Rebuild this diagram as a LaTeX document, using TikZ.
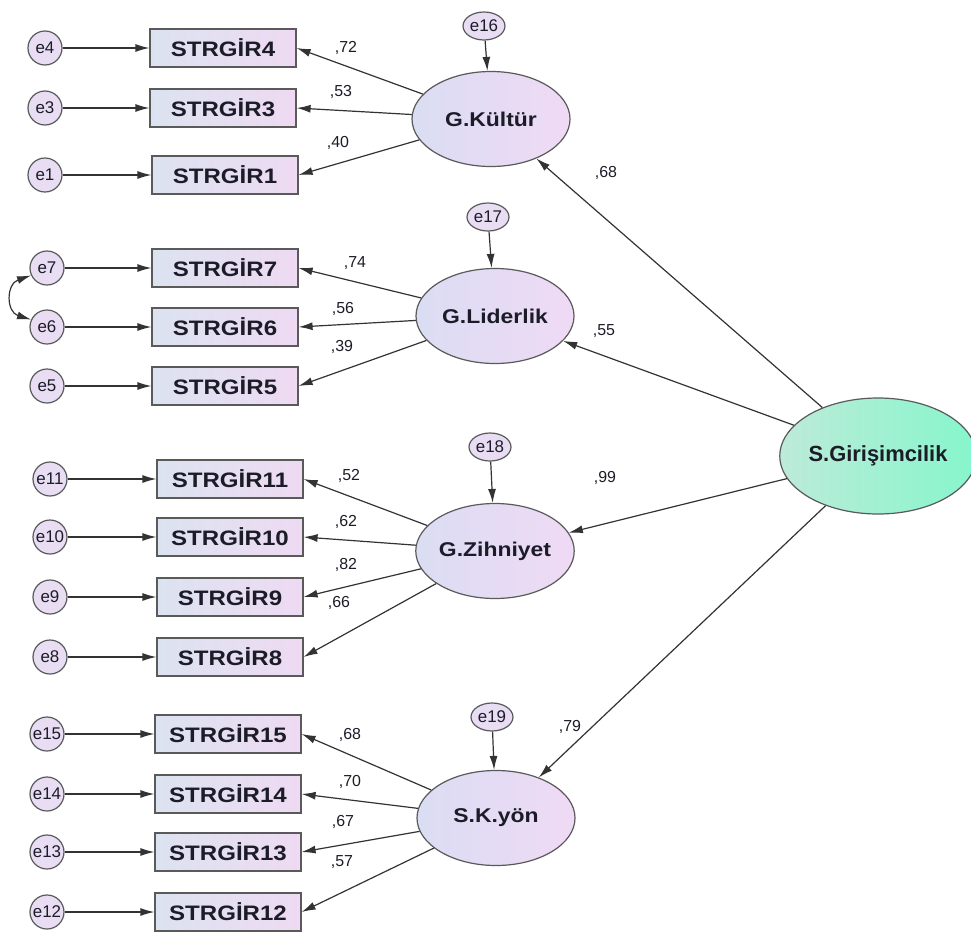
\documentclass[tikz,border=0pt]{standalone}
\usepackage{fontspec}
\setmainfont{Liberation Sans}
\newfontfamily\boxfont[FakeStretch=1.15]{Liberation Sans}
\usetikzlibrary{shapes.geometric,arrows.meta}

\definecolor{obsL}{HTML}{DCE3F0}
\definecolor{obsR}{HTML}{EEDAF2}
\definecolor{latL}{HTML}{DADDF3}
\definecolor{latR}{HTML}{F0DAF5}
\definecolor{girL}{HTML}{BDEBD9}
\definecolor{girR}{HTML}{86F6CB}
\definecolor{errF}{HTML}{E8DDF3}
\definecolor{edge}{HTML}{5A5A5A}
\definecolor{ink}{HTML}{1C1C28}

\begin{document}
\begin{tikzpicture}[x=1bp,y=-1bp,
  >={Latex[length=14bp,width=8bp]},
  obs/.style={draw=edge, line width=1.2bp, left color=obsL, right color=obsR,
    minimum width=146bp, minimum height=38bp, inner sep=0pt, text=ink,
    font=\boxfont\bfseries\fontsize{21}{23}\selectfont},
  lat/.style={ellipse, draw=edge, line width=1.2bp, left color=latL, right color=latR,
    minimum width=158bp, minimum height=95bp, inner sep=0pt, text=ink,
    font=\boxfont\bfseries\fontsize{20}{22}\selectfont},
  top/.style={ellipse, draw=edge, line width=1.2bp, left color=girL, right color=girR,
    minimum width=180bp, minimum height=116bp, inner sep=0pt, text=ink,
    font=\bfseries\fontsize{22}{24}\selectfont},
  err/.style={circle, draw=edge, line width=1.2bp, fill=errF, minimum size=34bp,
    inner sep=0pt, text=ink, font=\fontsize{17}{19}\selectfont},
  res/.style={ellipse, draw=edge, line width=1.2bp, fill=errF, minimum width=42bp,
    minimum height=28bp, inner sep=0pt, text=ink, font=\fontsize{17}{19}\selectfont},
  path/.style={draw=black!80, line width=1.2bp, ->},
  coef/.style={text=ink, font=\fontsize{16}{18}\selectfont, inner sep=0pt}
]
\useasboundingbox[fill=white] (0,0) rectangle (971,935);

% latent variables
\node[lat] (kul) at (491,119) {G.Kültür};
\node[lat] (lid) at (495,316) {G.Liderlik};
\node[lat] (zih) at (495,551) {G.Zihniyet};
\node[lat] (kyo) at (496,818) {S.K.yön};
\node[top] (gir) at (878,456) {S.Girişimcilik};

% residuals of the latent variables
\node[res] (e16) at (484,26) {e16};
\node[res] (e17) at (488,217) {e17};
\node[res] (e18) at (490,447) {e18};
\node[res] (e19) at (492,717) {e19};

% indicators
\node[obs] (s4) at (223,48) {STRGİR4};
\node[obs] (s3) at (223,108) {STRGİR3};
\node[obs] (s1) at (225,175) {STRGİR1};
\node[obs] (s7) at (225,268) {STRGİR7};
\node[obs] (s6) at (225,327) {STRGİR6};
\node[obs] (s5) at (225,386) {STRGİR5};
\node[obs] (s11) at (230,479) {STRGİR11};
\node[obs] (s10) at (230,537) {STRGİR10};
\node[obs] (s9) at (230,597) {STRGİR9};
\node[obs] (s8) at (230,657) {STRGİR8};
\node[obs] (s15) at (228,734) {STRGİR15};
\node[obs] (s14) at (228,794) {STRGİR14};
\node[obs] (s13) at (228,852) {STRGİR13};
\node[obs] (s12) at (228,912) {STRGİR12};

% measurement errors
\node[err] (e4) at (45,48) {e4};
\node[err] (e3) at (45,108) {e3};
\node[err] (e1) at (45,175) {e1};
\node[err] (e7) at (47,268) {e7};
\node[err] (e6) at (47,327) {e6};
\node[err] (e5) at (47,386) {e5};
\node[err] (e11) at (50,479) {e11};
\node[err] (e10) at (50,537) {e10};
\node[err] (e9) at (50,597) {e9};
\node[err] (e8) at (50,657) {e8};
\node[err] (e15) at (47,734) {e15};
\node[err] (e14) at (47,794) {e14};
\node[err] (e13) at (47,852) {e13};
\node[err] (e12) at (47,912) {e12};

% error paths
\foreach \e/\s in {e4/s4,e3/s3,e1/s1,e7/s7,e6/s6,e5/s5,e11/s11,e10/s10,e9/s9,e8/s8,e15/s15,e14/s14,e13/s13,e12/s12}
  \draw[path] (\e) -- (\s.west);
\foreach \e/\l in {e16/kul,e17/lid,e18/zih,e19/kyo}
  \draw[path] (\e) -- (\l);

% covariance between e7 and e6
\draw[draw=black!80, line width=1.2bp, <->] (e7.205) .. controls (6,284) and (6,312) .. (e6.155);

% loadings
\foreach \l/\s in {kul/s4,kul/s3,kul/s1,lid/s7,lid/s6,lid/s5,zih/s11,zih/s10,zih/s9,zih/s8,kyo/s15,kyo/s14,kyo/s13,kyo/s12}
  \draw[path] (\l) -- (\s.east);

% structural paths
\foreach \l in {kul,lid,zih,kyo}
  \draw[path] (gir) -- (\l);

% coefficients
\node[coef] (c1) at (346,48) {,72};
\node[coef] (c2) at (341,92) {,53};
\node[coef] (c3) at (338,143) {,40};
\node[coef] (c4) at (606,173) {,68};
\node[coef] (c5) at (355,263) {,74};
\node[coef] (c6) at (343,309) {,56};
\node[coef] (c7) at (342,347) {,39};
\node[coef] (c8) at (604,331) {,55};
\node[coef] (c9) at (349,476) {,52};
\node[coef] (c10) at (346,522) {,62};
\node[coef] (c11) at (346,565) {,82};
\node[coef] (c12) at (339,603) {,66};
\node[coef] (c13) at (605,478) {,99};
\node[coef] (c14) at (350,735) {,68};
\node[coef] (c15) at (350,782) {,70};
\node[coef] (c16) at (343,822) {,67};
\node[coef] (c17) at (342,862) {,57};
\node[coef] (c18) at (570,727) {,79};
\end{tikzpicture}
\end{document}
